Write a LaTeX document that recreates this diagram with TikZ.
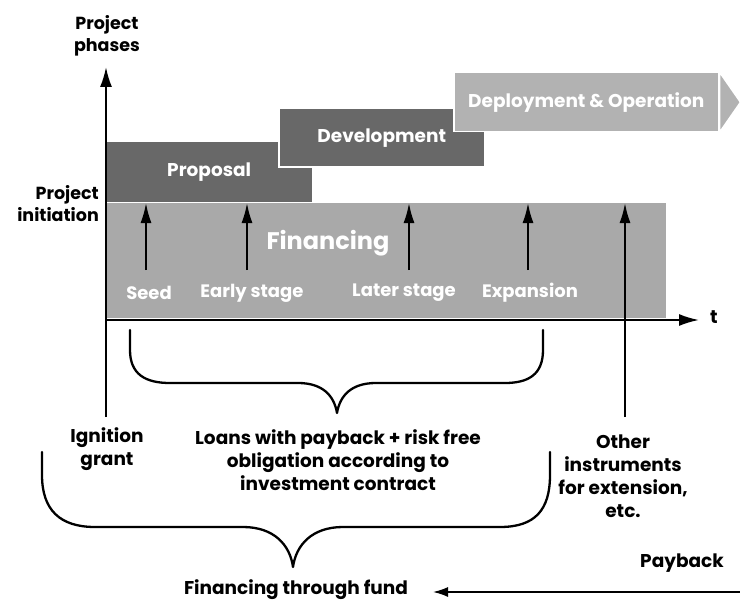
\documentclass[tikz,border=0pt]{standalone}
\usepackage{fontspec}
\setmainfont{Poppins}
\usetikzlibrary{arrows.meta}
\definecolor{darkph}{HTML}{686868}
\definecolor{lightph}{HTML}{B2B2B2}
\definecolor{finc}{HTML}{A9A9A9}
\begin{document}
\begin{tikzpicture}[x=1pt,y=-1pt,
  box/.style={anchor=north west, inner sep=0pt, text=white, font=\bfseries\fontsize{18.5}{20}\selectfont},
  inlbl/.style={inner sep=0pt, text=white, font=\bfseries\fontsize{18}{20}\selectfont},
  txt/.style={inner sep=0pt, align=center, font=\bfseries\fontsize{18.5}{23}\selectfont},
  axis/.style={line width=2pt, -{Latex[length=20pt,width=12pt]}},
  up/.style={line width=2pt, -{Latex[length=20pt,width=11pt]}},
  brace/.style={line width=2.3pt, line cap=round, line join=round},
  payarr/.style={line width=1.6pt, -{Latex[length=15pt,width=10pt]}}
]
\useasboundingbox[fill=white] (0,0) rectangle (740,602);

% financing band
\node[box, fill=finc, minimum width=560pt, minimum height=115pt] (fin) at (106,203) {};
\node[inlbl, font=\bfseries\fontsize{24}{26}\selectfont] (fintxt) at (328,243) {Financing};

% phases
\node[box, fill=darkph, minimum width=206pt, minimum height=60pt] (prop) at (106,142) {Proposal};
\node[box, fill=darkph, draw=white, line width=1.5pt, minimum width=206pt, minimum height=58pt] (dev) at (278,108) {Development};
\node[box, fill=lightph, draw=white, line width=1.5pt, minimum width=265pt, minimum height=59pt] (dep) at (453,72) {Deployment \& Operation};
\filldraw[fill=lightph, draw=white, line width=1.5pt] (dep.north east) -- ([xshift=21pt]dep.east) -- (dep.south east) -- cycle;

% stage labels
\node[inlbl] (seed) at (149,293) {Seed};
\node[inlbl] (early) at (252,293) {Early stage};
\node[inlbl] (later) at (404,293) {Later stage};
\node[inlbl] (exp) at (530,293) {Expansion};

\coordinate (aseed) at (146,270);
\coordinate (aearly) at (247,270);
\coordinate (alater) at (409,270);
\coordinate (aexp) at (528,270);
\coordinate (aoth) at (625,417);
\draw[up] (aseed) -- (aseed |- fin.north);
\draw[up] (aearly) -- (aearly |- fin.north);
\draw[up] (alater) -- (alater |- fin.north);
\draw[up] (aexp) -- (aexp |- fin.north);
\draw[up] (aoth) -- (aoth |- fin.north);

% axes
\coordinate (O) at (106,320);
\coordinate (ytop) at (106,67);
\coordinate (ybot) at (106,417);
\coordinate (tend) at (699,320);
\draw[axis] (ybot) -- (ytop);
\draw[axis] (O) -- (tend);
\node[txt] (t) at (714,317) {t};

% axis labels
\node[txt, font=\bfseries\fontsize{17.5}{22}\selectfont] (phases) at (107,36) {Project\\phases};
\node[txt, font=\bfseries\fontsize{17.5}{22}\selectfont, anchor=east, align=right] (init) at (99,204) {Project\\initiation};

% bottom texts
\node[txt] (ign) at (107,449) {Ignition\\grant};
\node[txt] (loans) at (338,460) {Loans with payback + risk free\\obligation according to\\investment contract};
\node[txt] (other) at (623,476) {Other\\instruments\\for extension,\\etc.};
\node[txt] (payback) at (682,563) {Payback};
\node[txt] (fund) at (296,590) {Financing through fund};

% braces
\draw[brace] (130,330) -- (130,350) .. controls (130,374) and (145,383) .. (170,383) -- (298,383) .. controls (322,383) and (334,395) .. (337,413) .. controls (340,395) and (352,383) .. (376,383) -- (505,383) .. controls (529,383) and (543,374) .. (543,350) -- (543,330);
\draw[brace] (42,452) -- (42,475) .. controls (42,510) and (60,527) .. (95,527) -- (243,527) .. controls (274,527) and (290,545) .. (293,567) .. controls (296,545) and (312,527) .. (343,527) -- (500,527) .. controls (535,527) and (550,510) .. (550,475) -- (550,452);

% payback arrow
\coordinate (pbstart) at (740,592);
\coordinate (pbend) at (433,592);
\draw[payarr] (pbstart) -- (pbend);
\end{tikzpicture}
\end{document}
